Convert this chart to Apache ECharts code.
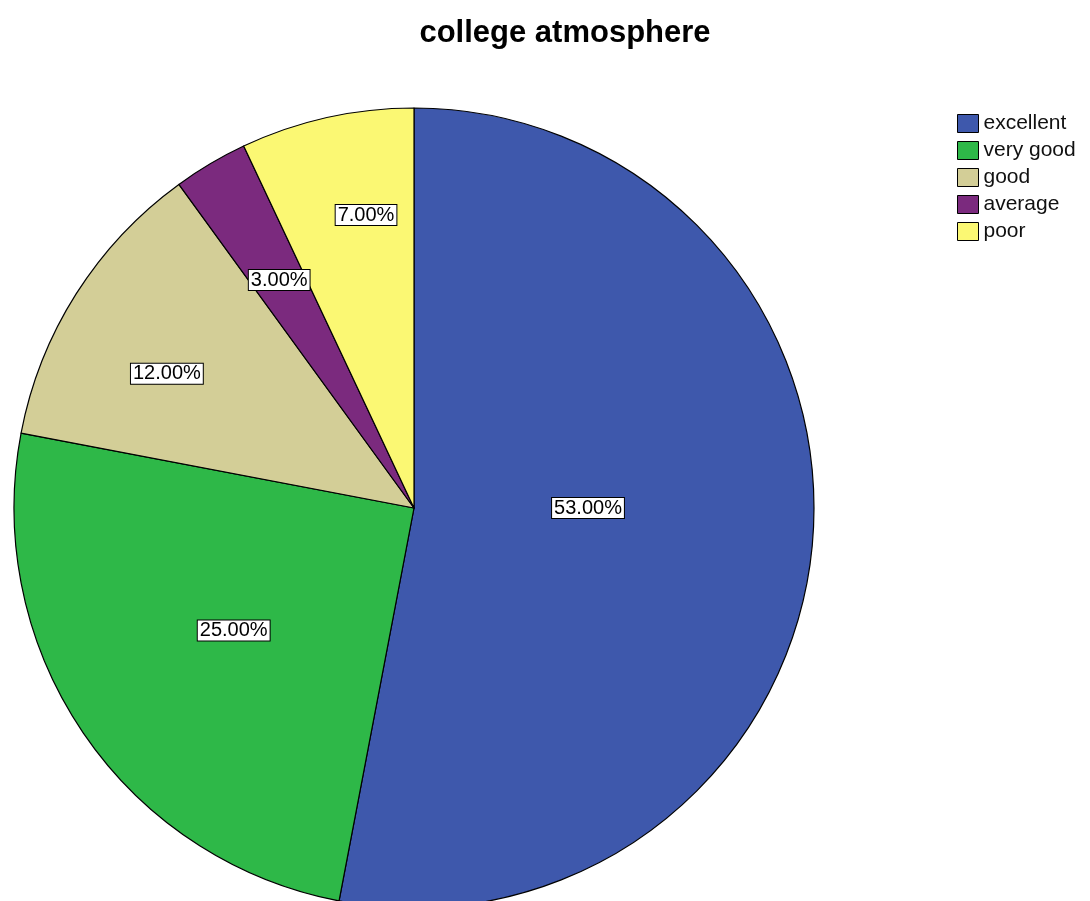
<!DOCTYPE html>
<html>
<head>
<meta charset="utf-8">
<script src="https://cdn.jsdelivr.net/npm/echarts@6/dist/echarts.min.js"></script>
<style>html,body{margin:0;padding:0;background:#fff;}#c{width:1090px;height:901px;}</style>
</head>
<body>
<div id="c"></div>
<script>
var categories = ['excellent', 'very good', 'good', 'average', 'poor'];
var percents = [53, 25, 12, 3, 7];
var colors = ['#3E58AC', '#2EB848', '#D3CE97', '#7B2A7E', '#FBF873'];
// label placement styling (fraction of radius, angle shift in degrees)
var labelRadius = [0.435, 0.545, 0.703, 0.662, 0.742];
var labelAngleShift = [-5.4, 0, -3.9, 0, 3.3];

var CX = 414, CY = 508, R = 400;
var total = percents.reduce(function (a, b) { return a + b; }, 0);
var midAngles = [];
(function () {
  var acc = 0;
  for (var i = 0; i < percents.length; i++) {
    midAngles.push((acc + percents[i] / 2) / total * 360);
    acc += percents[i];
  }
})();

var chart = echarts.init(document.getElementById('c'), null, { renderer: 'canvas' });
chart.setOption({
  animation: false,
  backgroundColor: '#fff',
  title: {
    text: 'college atmosphere',
    left: 560,
    top: 13,
    textAlign: 'center',
    textStyle: { fontFamily: 'Liberation Sans, Arial, sans-serif', fontSize: 31, fontWeight: 'bold', color: '#000' }
  },
  legend: {
    orient: 'vertical',
    left: 952,
    top: 108,
    itemWidth: 21,
    itemHeight: 18,
    itemGap: 6,
    icon: 'rect',
    data: categories,
    itemStyle: { borderColor: '#000', borderWidth: 1 },
    textStyle: { fontFamily: 'Liberation Sans, Arial, sans-serif', fontSize: 21, color: '#111' }
  },
  series: [{
    type: 'pie',
    center: [CX, CY],
    radius: [0, R],
    startAngle: 90,
    clockwise: true,
    silent: true,
    data: categories.map(function (c, i) {
      return { name: c, value: percents[i], itemStyle: { color: colors[i] } };
    }),
    itemStyle: { borderColor: '#000', borderWidth: 1.2 },
    label: {
      show: true,
      position: 'inside',
      formatter: function (p) { return p.value.toFixed(2) + '%'; },
      fontFamily: 'Liberation Sans, Arial, sans-serif',
      fontSize: 20,
      color: '#000',
      backgroundColor: '#fff',
      borderColor: '#000',
      borderWidth: 1,
      padding: [0, 2],
      lineHeight: 20
    },
    labelLine: { show: false },
    labelLayout: function (params) {
      var i = params.dataIndex;
      var a = (midAngles[i] + labelAngleShift[i]) * Math.PI / 180;
      var r = labelRadius[i] * R;
      return {
        x: CX + r * Math.sin(a),
        y: CY - r * Math.cos(a),
        align: 'center',
        verticalAlign: 'middle'
      };
    }
  }]
});
</script>
</body>
</html>
